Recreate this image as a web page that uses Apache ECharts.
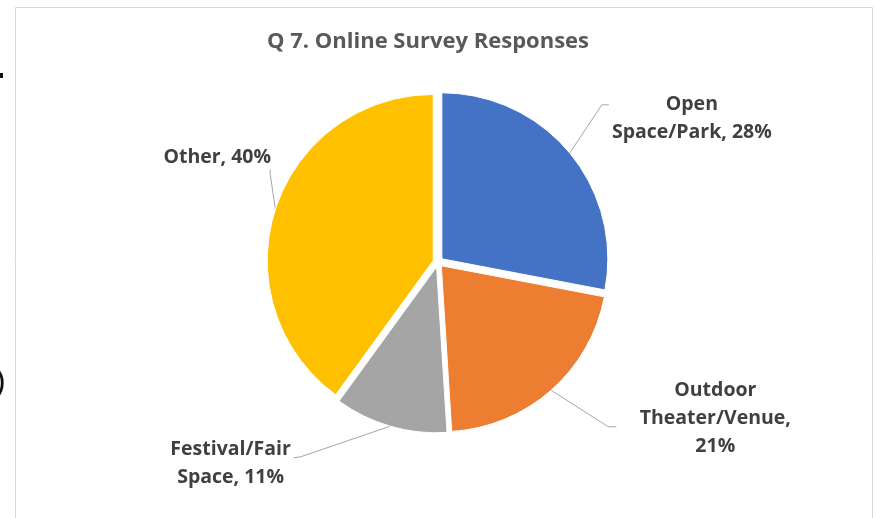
<!DOCTYPE html>
<html>
<head>
<meta charset="utf-8">
<script src="https://cdn.jsdelivr.net/npm/echarts@6/dist/echarts.min.js"></script>
<style>
  html, body { margin: 0; padding: 0; background: #ffffff; }
  #chart { width: 877px; height: 518px; }
</style>
</head>
<body>
<div id="chart"></div>
<script>
// Survey answers, in clockwise order from 12 o'clock
const categories = ['Open Space/Park', 'Outdoor Theater/Venue', 'Festival/Fair Space', 'Other'];
const shares = [28, 21, 11, 40];
const colors = ['#4472C4', '#ED7D31', '#A5A5A5', '#FFC000'];

// Word counts after which each data label wraps onto a new line
const wrapAfter = [[1], [1, 2], [1], []];

// Label box centres and leader-line knee/end points (px)
const labelPlacement = [
  { x: 688, y: 122, knee: [598, 108], end: [605, 108] },
  { x: 712, y: 415, knee: [605, 423], end: [613, 423] },
  { x: 232, y: 459, knee: [302, 452], end: [295, 453] },
  { x: 222, y: 159, knee: [275, 176], end: [275, 171] }
];

function labelText(i) {
  const words = (categories[i] + ', ' + shares[i] + '%').split(' ');
  let out = '';
  words.forEach(function (w, k) {
    if (k > 0) out += wrapAfter[i].indexOf(k) >= 0 ? '\n' : ' ';
    out += w;
  });
  return out;
}

const chart = echarts.init(document.getElementById('chart'), null, { renderer: 'canvas' });

chart.setOption({
  animation: false,
  backgroundColor: '#ffffff',
  title: {
    text: 'Q 7. Online Survey Responses',
    left: 428,
    top: 31,
    padding: 0,
    textAlign: 'center',
    textStyle: {
      fontFamily: 'Open Sans',
      fontWeight: 'bold',
      fontSize: 22,
      color: '#595959'
    }
  },
  graphic: [
    {
      type: 'rect',
      shape: { x: 15.5, y: 7.5, width: 857, height: 530 },
      style: { fill: 'none', stroke: '#D9D9D9', lineWidth: 1 },
      silent: true
    },
    {
      type: 'rect',
      shape: { x: 0, y: 73, width: 3, height: 5 },
      style: { fill: '#111111' },
      silent: true
    },
    {
      type: 'text',
      x: -5,
      y: 366,
      style: { text: ')', font: '32px "Liberation Sans"', fill: '#111111' },
      silent: true
    }
  ],
  series: [
    {
      type: 'pie',
      center: [438, 262],
      radius: 166,
      startAngle: 90,
      clockwise: true,
      avoidLabelOverlap: false,
      selectedMode: 'multiple',
      selectedOffset: 5,
      color: colors,
      itemStyle: { borderColor: '#ffffff', borderWidth: 1 },
      emphasis: { disabled: true },
      label: {
        show: true,
        position: 'outside',
        formatter: function (p) { return labelText(p.dataIndex); },
        fontFamily: 'Open Sans',
        fontWeight: 'bold',
        fontSize: 19.5,
        lineHeight: 28,
        color: '#404040'
      },
      labelLine: {
        show: true,
        length: 20,
        length2: 10,
        smooth: false,
        lineStyle: { color: '#A6A6A6', width: 1 }
      },
      labelLayout: function (params) {
        const lp = labelPlacement[params.dataIndex];
        const r = params.labelRect;
        const pts = params.labelLinePoints;
        // anchor of the default label, so the text can be re-centred on it
        let anchorX = r.x + r.width / 2;
        if (params.align === 'left') anchorX = r.x;
        else if (params.align === 'right') anchorX = r.x + r.width;
        return {
          align: 'center',
          dx: lp.x - anchorX,
          dy: lp.y - (r.y + r.height / 2),
          labelLinePoints: [pts[0], lp.knee, lp.end]
        };
      },
      data: categories.map(function (name, i) {
        return { name: name, value: shares[i], selected: true };
      })
    }
  ]
});
</script>
</body>
</html>
